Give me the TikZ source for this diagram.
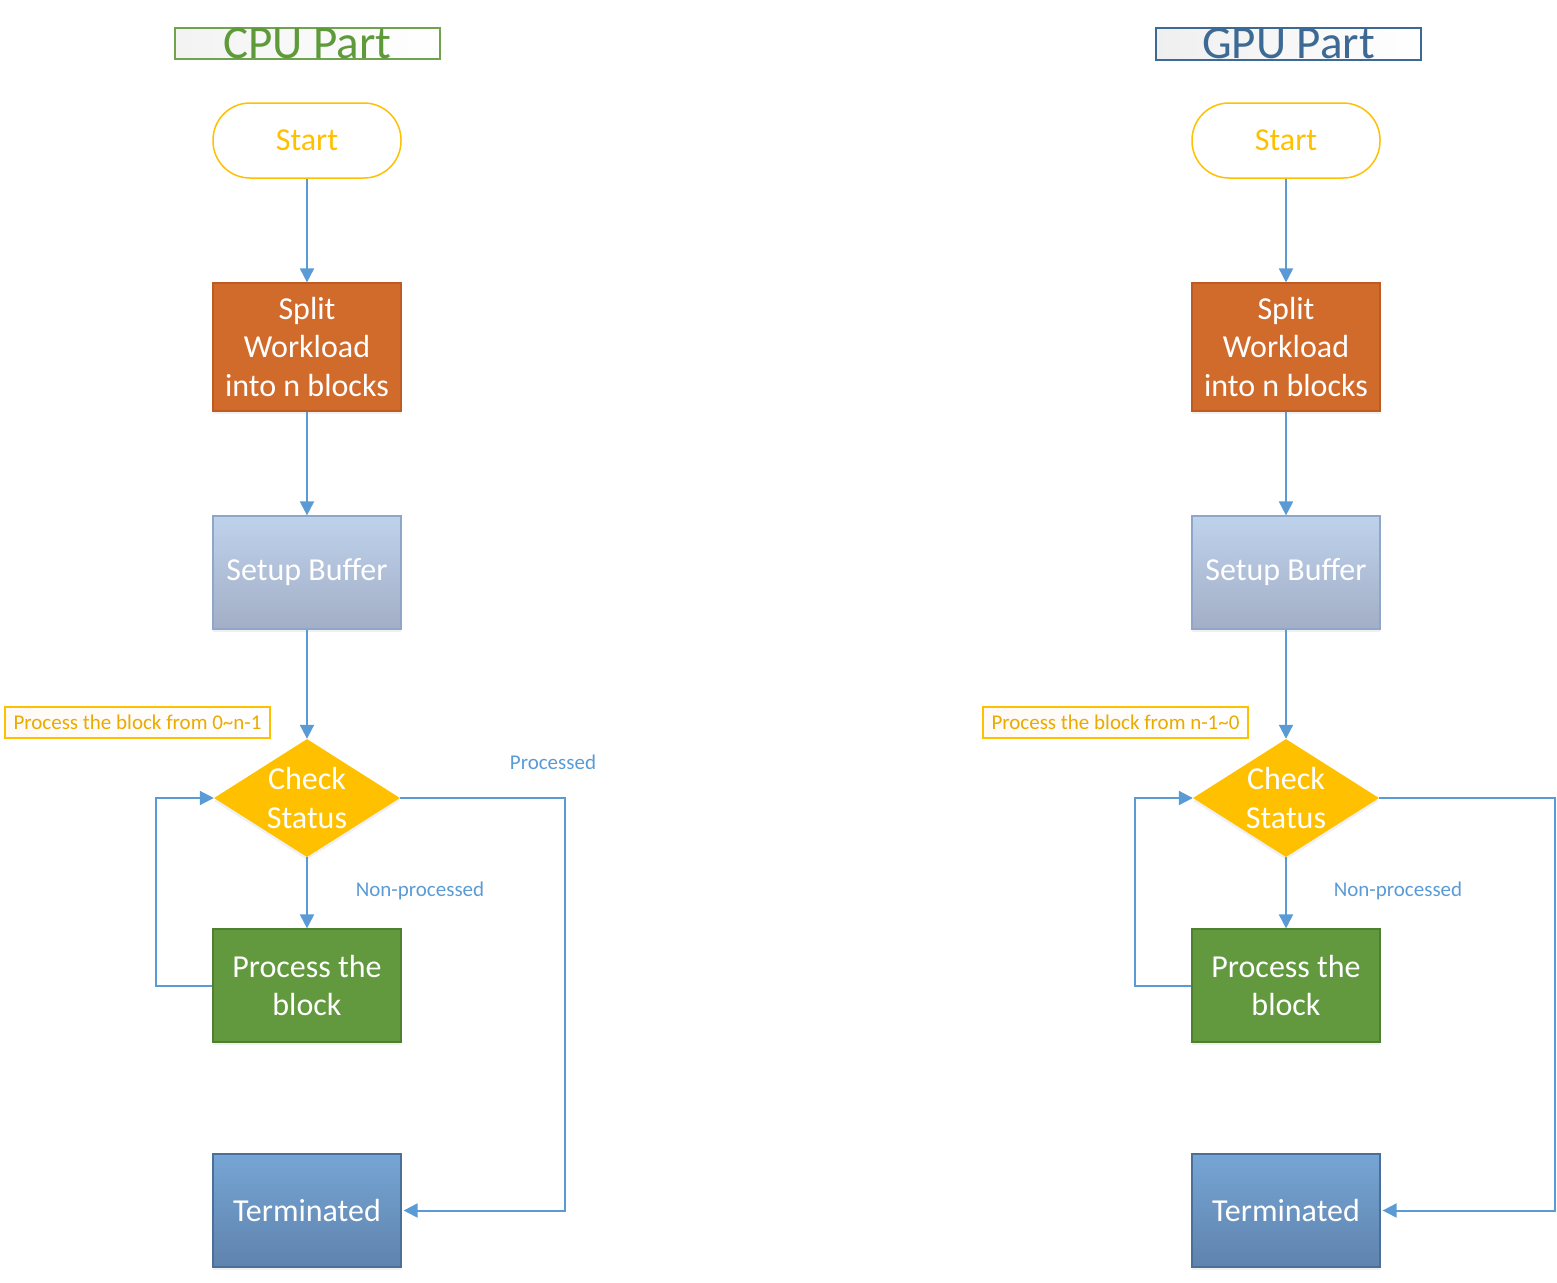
\documentclass[tikz,border=0pt]{standalone}
\usepackage{fontspec}
\setmainfont{Carlito}
\usetikzlibrary{shapes.geometric,arrows.meta,shadows}
\definecolor{gold}{HTML}{FFC000}
\definecolor{goldtxt}{HTML}{EBAA00}
\definecolor{arrowblue}{HTML}{5B9BD5}
\definecolor{splitfill}{HTML}{D06B2C}
\definecolor{splitdraw}{HTML}{BE5B22}
\definecolor{bufTop}{HTML}{BFD2EC}
\definecolor{bufBot}{HTML}{A2AEC6}
\definecolor{bufdraw}{HTML}{8EA6C8}
\definecolor{procfill}{HTML}{62993E}
\definecolor{procdraw}{HTML}{4F8030}
\definecolor{termTop}{HTML}{76A5D5}
\definecolor{termBot}{HTML}{5F83AD}
\definecolor{termdraw}{HTML}{4A6F99}
\definecolor{cpugreen}{HTML}{5E9A3A}
\definecolor{gpublue}{HTML}{3D6A94}
\tikzset{
  boxbase/.style={rectangle, minimum width=188pt, inner sep=0pt, align=center,
    text=white, font=\fontsize{32}{38.5}\selectfont, line width=1.2pt,
    drop shadow={shadow xshift=0pt, shadow yshift=-3pt, opacity=0.12, fill=gray}},
  startbox/.style={rectangle, rounded corners=37pt, draw=gold, line width=1.5pt, fill=white,
    minimum width=188pt, minimum height=75pt, text=gold, font=\fontsize{32}{38}\selectfont},
  splitbox/.style={boxbase, fill=splitfill, draw=splitdraw, minimum height=128pt},
  bufbox/.style={boxbase, top color=bufTop, bottom color=bufBot, draw=bufdraw, minimum height=113pt},
  checkshape/.style={diamond, fill=gold, draw=none, minimum width=186pt, minimum height=118pt, inner sep=0pt,
    drop shadow={shadow xshift=0pt, shadow yshift=-3pt, opacity=0.12, fill=gray}},
  checktext/.style={text=white, align=center, font=\fontsize{32}{38.5}\selectfont},
  procbox/.style={boxbase, fill=procfill, draw=procdraw, minimum height=113pt},
  termbox/.style={boxbase, top color=termTop, bottom color=termBot, draw=termdraw, minimum height=113pt},
  conn/.style={draw=arrowblue, line width=2pt, -{Triangle[length=14pt,width=14pt]}},
  edgelabel/.style={text=arrowblue, font=\fontsize{21}{24}\selectfont},
  notebox/.style={rectangle, draw=gold, line width=1.3pt, left color=orange!4, right color=white,
    minimum width=265pt, minimum height=31pt, inner sep=0pt, text=goldtxt, font=\fontsize{21}{24}\selectfont},
  titlecpu/.style={rectangle, draw=cpugreen!90!white, line width=1.5pt, left color=green!4!gray!10, right color=white,
    minimum width=265pt, minimum height=31pt, inner sep=0pt, text=cpugreen, font=\fontsize{47}{47}\selectfont},
  titlegpu/.style={rectangle, draw=gpublue, line width=1.5pt, left color=blue!4!gray!12, right color=white,
    minimum width=265pt, minimum height=32pt, inner sep=0pt, text=gpublue, font=\fontsize{47}{47}\selectfont},
}
\begin{document}
\begin{tikzpicture}[x=1pt,y=-1pt]
\useasboundingbox (0,0) rectangle (1557,1282);
% ---------- CPU column ----------
\node[titlecpu] (tc) at (307.5,43.5) {};
\node[text=cpugreen, font=\fontsize{47}{47}\selectfont, anchor=base] (tct) at (307.5,58) {CPU Part};
\node[startbox] (s1) at (307,140.5) {Start};
\node[splitbox] (sp1) at (307,347) {Split\\Workload\\into n blocks};
\node[bufbox] (b1) at (307,572.5) {Setup Buffer};
\node[checkshape] (d1) at (307,798) {};
\node[checktext] (d1t) at (307,798) {Check\\Status};
\node[procbox] (p1) at (307,985.5) {Process the\\block};
\node[termbox] (t1) at (307,1210.5) {Terminated};
\node[notebox] (n1) at (137.5,722.5) {Process the block from 0\textasciitilde n-1};
\node[edgelabel] (l1) at (553,762) {Processed};
\node[edgelabel] (l2) at (420,891) {Non-processed};
\draw[conn] (s1) -- (sp1);
\draw[conn] (sp1) -- (b1);
\draw[conn] (b1) -- (d1.north);
\draw[conn] (d1.south) -- (p1);
\draw[conn] (p1.west) -- ++(-56,0) |- (d1.west);
\draw[conn] (d1.east) -- ++(165,0) |- ([xshift=2pt]t1.east);
% ---------- GPU column ----------
\node[titlegpu] (tg) at (1288.5,44) {};
\node[text=gpublue, font=\fontsize{47}{47}\selectfont, anchor=base] (tgt) at (1288.5,58) {GPU Part};
\node[startbox] (s2) at (1286,140.5) {Start};
\node[splitbox] (sp2) at (1286,347) {Split\\Workload\\into n blocks};
\node[bufbox] (b2) at (1286,572.5) {Setup Buffer};
\node[checkshape] (d2) at (1286,798) {};
\node[checktext] (d2t) at (1286,798) {Check\\Status};
\node[procbox] (p2) at (1286,985.5) {Process the\\block};
\node[termbox] (t2) at (1286,1210.5) {Terminated};
\node[notebox] (n2) at (1115.5,722.5) {Process the block from n-1\textasciitilde 0};
\node[edgelabel] (l3) at (1398,891) {Non-processed};
\draw[conn] (s2) -- (sp2);
\draw[conn] (sp2) -- (b2);
\draw[conn] (b2) -- (d2.north);
\draw[conn] (d2.south) -- (p2);
\draw[conn] (p2.west) -- ++(-56,0) |- (d2.west);
\draw[conn] (d2.east) -- ++(176,0) |- ([xshift=2pt]t2.east);
\end{tikzpicture}
\end{document}
